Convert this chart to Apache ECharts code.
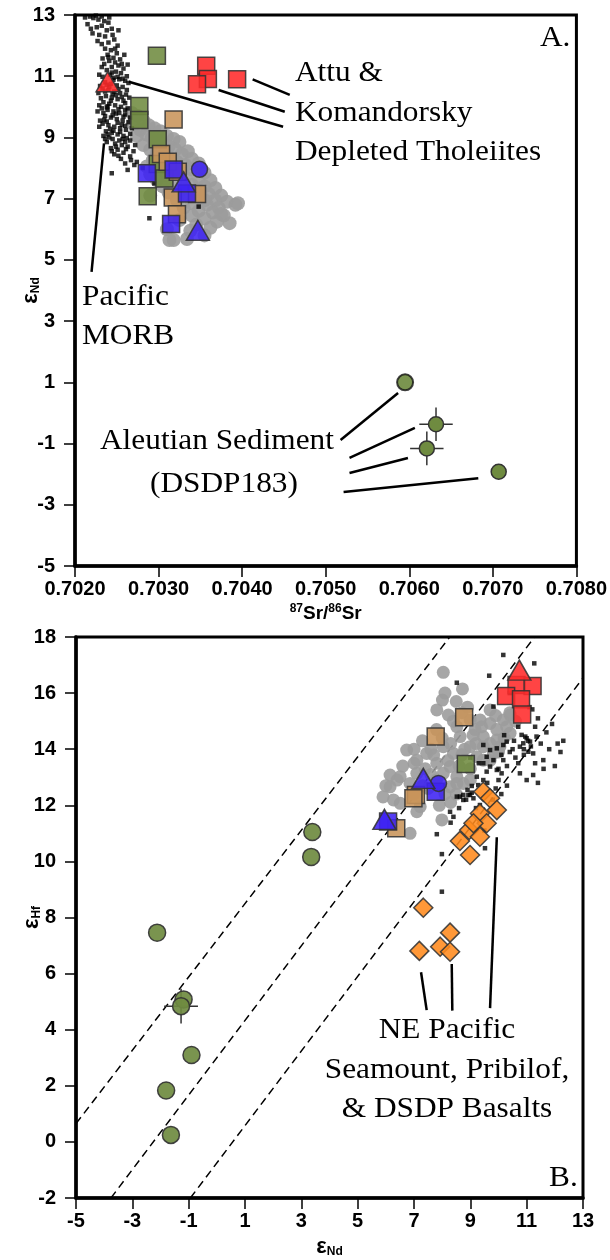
<!DOCTYPE html>
<html>
<head>
<meta charset="utf-8">
<script src="https://cdn.jsdelivr.net/npm/echarts@6.0.0/dist/echarts.min.js"></script>
<style>
html,body{margin:0;padding:0;background:#fff}
#chart{width:610px;height:1260px}
</style>
</head>
<body>
<div id="chart"></div>
<script>
// ---------- Panel A: 87Sr/86Sr vs eNd ----------
const xTicksA = [0.7020, 0.7030, 0.7040, 0.7050, 0.7060, 0.7070, 0.7080];
const yTicksA = [-5, -3, -1, 1, 3, 5, 7, 9, 11, 13];

// Pacific MORB (small black squares)
const morbA = [
  [0.70218,12.95],[0.70222,12.9],[0.70228,12.85],[0.70235,12.8],[0.70241,12.92],[0.70215,12.7],[0.70226,12.6],[0.70232,12.65],
  [0.70238,12.5],[0.70244,12.55],[0.70221,12.4],[0.70229,12.35],[0.70236,12.3],[0.70247,12.2],[0.7024,12.1],[0.70232,12.05],[0.70251,12.0],
  [0.70236,11.9],[0.70243,11.85],[0.7025,11.75],[0.70239,11.7],[0.70246,11.6],[0.70254,11.55],[0.70241,11.5],[0.70248,11.45],
  [0.70235,11.4],[0.70252,11.35],[0.70244,11.3],[0.70258,11.25],[0.70238,11.2],[0.70249,11.15],[0.70255,11.1],[0.70242,11.05],
  [0.70262,11.0],[0.70246,10.95],[0.70253,10.9],[0.7026,10.85],
  [0.70236,10.8],[0.70243,10.75],[0.7025,10.7],[0.70257,10.65],[0.70233,10.6],[0.7024,10.55],[0.70247,10.5],[0.70254,10.45],
  [0.70261,10.4],[0.70237,10.35],[0.70244,10.3],[0.70251,10.25],[0.70258,10.2],[0.70234,10.15],[0.70241,10.1],[0.70248,10.05],
  [0.70255,10.0],[0.70238,10.72],[0.70252,10.58],[0.70245,10.42],[0.70231,10.28],[0.7026,10.12],[0.70246,10.88],[0.70239,10.02],
  [0.70232,9.95],[0.70239,9.9],[0.70246,9.85],[0.70253,9.8],[0.7026,9.75],[0.70236,9.7],[0.70243,9.65],[0.7025,9.6],[0.70257,9.55],
  [0.70264,9.5],[0.70233,9.45],[0.7024,9.4],[0.70247,9.35],[0.70254,9.3],[0.70261,9.25],[0.70237,9.2],[0.70244,9.15],[0.70251,9.1],
  [0.70258,9.05],[0.70241,9.0],[0.70249,9.78],[0.70235,9.58],[0.70256,9.42],[0.70242,9.28],[0.70266,9.12],[0.70229,9.35],
  [0.70245,8.95],[0.70253,8.9],[0.7026,8.85],[0.70248,8.8],[0.70256,8.75],[0.70263,8.7],[0.70243,8.65],[0.70251,8.6],[0.7027,8.55],
  [0.70258,8.5],[0.70247,8.45],[0.70266,8.38],[0.70255,8.3],[0.70274,8.2],
  [0.70244,7.83],[0.70289,6.36],[0.70263,7.94],[0.70271,8.1],[0.70267,8.26],[0.70348,6.74],[0.70281,8.0],[0.70295,7.5],
  [0.70229,11.05],[0.70233,10.98],[0.70257,10.92],[0.70264,10.78],[0.7023,10.68],[0.70262,10.55],[0.70228,10.45],[0.70265,10.3],
  [0.70229,10.05],[0.70263,9.95],[0.70227,9.85],[0.70266,9.65],[0.7023,9.55],[0.7026,9.38],[0.70234,9.05],[0.70262,8.98],
  [0.70238,8.85],[0.7024,11.62],[0.70256,11.4],[0.70232,11.3],[0.70244,11.12],[0.70251,10.98],[0.70236,10.5],[0.70249,10.38],
  [0.70256,10.32],[0.70243,10.2],[0.70238,9.98],[0.70252,9.92],[0.70245,9.72],[0.70258,9.68],[0.70238,9.52],[0.70251,9.48],
  [0.70246,9.22],[0.70254,9.18],[0.70239,9.1],[0.70257,8.95],[0.70249,8.7],[0.70261,8.62],[0.70252,8.4],[0.7026,8.15],
  [0.70248,11.9],[0.70227,12.15],[0.70245,12.35],[0.70252,12.5],[0.70233,11.58],[0.70259,11.7],[0.70263,11.38],[0.70241,10.66],
  [0.70234,9.8],[0.7026,9.9],[0.70268,9.3],[0.70266,8.9],[0.70272,8.75],[0.70244,8.55],[0.70236,8.95],[0.7024,12.75],
  [0.70212,12.92],[0.70225,12.98],[0.70232,12.95],[0.70219,12.55]
];

// Aleutian arc lavas (grey circles)
const arcA = [
  [0.70268,9.8],[0.70275,9.7],[0.70282,9.55],[0.7027,9.45],[0.70288,9.4],[0.70295,9.3],[0.70278,9.25],[0.70302,9.2],[0.70285,9.1],
  [0.7031,9.05],[0.70292,9.0],[0.70318,8.95],[0.70274,9.05],
  [0.70298,8.9],[0.70305,8.8],[0.70325,8.85],[0.70282,8.75],[0.70312,8.7],[0.7029,8.6],[0.7032,8.6],[0.70335,8.55],[0.70298,8.5],
  [0.70305,8.4],[0.70328,8.45],[0.70315,8.3],[0.7034,8.3],[0.70293,8.25],[0.70322,8.2],[0.70308,8.1],[0.70332,8.1],[0.70348,8.15],
  [0.70286,8.05],[0.70315,8.0],
  [0.703,7.95],[0.70325,7.9],[0.7034,7.95],[0.70355,7.85],[0.7029,7.8],[0.7031,7.75],[0.70332,7.7],[0.70348,7.65],[0.70362,7.6],
  [0.70298,7.6],[0.7032,7.55],[0.7034,7.45],[0.70355,7.4],[0.70368,7.35],[0.70305,7.4],[0.70328,7.3],[0.70345,7.25],[0.7036,7.15],
  [0.70375,7.1],[0.70312,7.2],[0.70335,7.1],[0.70352,7.0],[0.70368,6.95],[0.70382,6.9],[0.7029,7.1],
  [0.70322,6.95],[0.7034,6.85],[0.70358,6.8],[0.70372,6.7],[0.7033,6.7],[0.70348,6.6],[0.70365,6.55],[0.70378,6.45],[0.70392,6.8],
  [0.7034,6.45],[0.70355,6.35],[0.7037,6.25],[0.70325,6.3],[0.70345,6.15],[0.70362,6.05],[0.70338,5.95],[0.70355,5.8],[0.70318,5.65],
  [0.7031,6.0],[0.70385,6.2],[0.70375,6.5],[0.70395,6.85],[0.70313,5.65],[0.70334,5.68],[0.70355,6.95]
];

const greenSqA = [[0.70298,11.67],[0.70277,10.03],[0.70277,9.57],[0.70299,8.94],[0.70299,8.13],[0.70307,7.66],[0.70287,7.08]];
const tanSqA   = [[0.70318,9.59],[0.70303,8.46],[0.70311,8.21],[0.70323,7.88],[0.70346,7.15],[0.70317,7.04],[0.70322,6.49]];
const blueSqA  = [[0.70318,7.95],[0.70286,7.83],[0.70334,7.17],[0.70315,6.17]];
const blueCircA = [[0.70349,7.96]];
const blueTriA = [[0.70330,7.55],[0.70347,5.97]];
const redSqA   = [[0.70357,11.34],[0.70359,10.91],[0.70346,10.74],[0.70394,10.9]];
const redTriA  = [[0.70239,10.82]];

// Aleutian sediment, DSDP 183
const sedDarkA = [[0.70595,1.0]];
const sedA     = [[0.70632,-0.37],[0.70621,-1.16],[0.70707,-1.92]];
// [Sr, Nd, errSr, errNd]
const sedErrA  = [[0.70632,-0.37,0.0002,0.55],[0.70621,-1.16,0.0002,0.55]];

// label leader lines [x1, y1, x2, y2]
const leadersA = [
  [0.702347,8.81,0.702198,4.61],
  [0.704126,10.90,0.704570,10.39],
  [0.703719,10.55,0.704510,9.84],
  [0.702644,10.82,0.704490,9.35],
  [0.705178,-0.885,0.705866,0.651],
  [0.705285,-1.47,0.706067,-0.49],
  [0.705285,-1.96,0.705984,-1.47],
  [0.705214,-2.58,0.706826,-2.13]
];

// ---------- Panel B: eNd vs eHf ----------
const xTicksB = [-5, -3, -1, 1, 3, 5, 7, 9, 11, 13];
const yTicksB = [-2, 0, 2, 4, 6, 8, 10, 12, 14, 16, 18];

const morbB = [
  [10.17,17.36],[11.27,17.06],[9.67,16.62],[8.52,16.37],[11.20,15.42],[9.82,15.52],[9.46,14.15],[9.70,13.97],[9.94,14.03],
  [10.17,14.15],[10.29,14.27],[10.82,14.51],[11.0,14.39],[11.12,14.27],[10.88,14.21],[10.76,14.09],[11.06,13.91],[11.23,13.85],
  [11.59,13.61],[9.58,13.73],[9.82,13.61],[9.46,13.50],[10.17,13.61],[9.70,13.38],[9.94,13.26],[10.11,13.14],[10.76,13.14],
  [11.23,13.08],[9.23,13.02],[9.46,12.90],[9.58,13.20],[8.52,12.31],[8.75,12.37],[8.99,12.37],[8.75,12.19],[8.93,12.37],
  [9.11,12.25],[8.63,12.31],[8.28,11.77],[8.40,11.59],[8.30,11.38],[7.81,10.97],[7.99,10.26],[7.99,8.92],[9.52,10.47],
  [9.28,12.72],[9.05,12.69],[9.34,12.01],[11.6,13.3],[11.4,12.8],[11.7,14.6],[11.3,14.8],[11.8,14.0],[12.0,13.4],[10.95,14.45],
  [11.05,14.3],[10.9,14.0],[11.15,14.1],[10.6,13.7],[10.4,13.9],[10.3,13.4],[10.0,12.9],[9.9,12.6],[11.4,15.1],[12.1,14.2],
  [8.9,12.55],[9.05,12.45],[8.85,12.2],
  [10.2,14.5],[10.5,14.0],[10.7,13.5],[10.9,13.8],[11.3,13.5],[11.5,14.2],[10.0,13.3],[9.6,12.8],[10.3,12.7],[9.8,12.2],
  [10.1,12.4],[11.0,12.9],[12.2,13.9],[12.3,14.3],[11.9,14.9],[11.1,15.5],[10.4,16.0],[9.3,13.5],[9.0,13.7],[9.2,11.9],
  [9.5,11.1],[8.6,11.9],[10.7,14.8],[10.1,13.8],[10.55,14.3],[11.35,14.45]
];

const arcB = [
  [8.04,16.74],[8.72,16.15],[8.01,15.75],[7.81,15.40],[8.22,15.22],[9.35,15.04],[9.70,14.92],[10.17,15.04],[10.41,15.22],
  [9.94,14.70],[9.17,14.70],[9.46,14.45],[8.64,14.45],[8.04,14.09],[8.99,14.09],[9.46,14.09],[6.74,13.97],[7.45,13.85],
  [8.40,13.85],[9.23,13.73],[7.10,13.61],[7.81,13.50],[8.28,13.38],[6.15,13.08],[6.51,13.02],[7.10,13.14],[8.04,13.14],
  [8.52,13.02],[6.15,12.66],[6.86,12.78],[8.28,12.66],[8.75,12.78],[9.46,13.61],[9.82,13.85],[10.05,14.09],[9.70,15.40],
  [10.29,14.80],[8.99,15.04],[8.52,14.80],[9.94,14.33],[10.41,14.57],[6.51,12.07],[7.22,11.95],[7.10,11.77],[7.99,11.48],
  [6.86,11.00],[8.52,12.78],[6.27,12.19],[7.5,12.6],[7.0,12.4],[7.6,13.1],[8.1,12.4],[8.6,13.4],[9.0,13.3],[8.8,14.0],
  [7.3,14.3],[7.8,14.7],[8.3,14.2],[8.9,15.5],[9.2,14.2],[10.6,15.0],[6.4,12.9],[5.9,12.3],[7.9,12.0],[8.3,12.1],[9.0,12.9],
  [7.0,13.5],[7.4,13.3],[7.7,13.8],[8.2,13.6],[8.7,13.8],[9.1,14.5],[8.4,15.0],[8.7,15.3],[9.4,14.8],[9.9,15.2],[10.2,14.4],
  [7.3,12.7],[7.8,12.9],[8.5,12.4],[9.7,13.6],[10.0,13.9],[6.6,13.4],[6.0,12.7],[8.1,16.0],[8.5,15.7],[7.6,14.0],[7.0,14.0],
  [8.0,14.4],[9.7,14.2],[10.4,15.3]
];

const greenSqB = [[8.84,13.47]];
const tanSqB   = [[8.78,15.14],[7.77,14.45],[7.07,12.37],[6.98,12.25],[6.37,11.18]];
const blueSqB  = [[7.77,12.48],[6.08,11.42]];
const blueCircB = [[7.87,12.78]];
const blueTriB = [[7.33,12.96],[5.95,11.5]];
const redSqB   = [[10.64,16.29],[11.21,16.25],[10.27,15.90],[10.80,15.78],[10.84,15.24]];
const redTriB  = [[10.74,16.82]];

// NE Pacific seamount, Pribilof and DSDP basalts
const seamountB = [
  [9.46,12.48],[9.70,12.25],[9.94,11.83],[9.34,11.71],[9.58,11.36],[8.96,11.12],[9.11,11.36],[9.34,10.88],
  [8.63,10.73],[8.99,10.23],[7.33,8.35],[8.28,7.46],[7.19,6.81],[7.93,6.96],[8.28,6.78]
];

const sedB    = [[-2.12,7.46],[-1.18,5.08],[-1.27,4.84],[-0.90,3.10],[-1.80,1.83],[-1.63,0.25],[3.39,11.05],[3.35,10.16]];
const sedErrB = [[-1.27,4.84,0.6,0.62]];

// dashed reference lines (end points)
const refLineUpper = [[-5,0.65],[8.27,18]];
const refLineMid   = [[-3.76,-2],[11.28,18]];
const refLineLower = [[-0.94,-2],[13,16.54]];

const leadersB = [
  [7.25,6.05,7.45,4.70],
  [8.34,6.34,8.36,4.68],
  [9.94,10.86,9.70,4.77]
];

// ---------- styling ----------
const SANS = '"Liberation Sans", Arial, Helvetica, sans-serif';
const SERIF = '"Liberation Serif", "Times New Roman", serif';
const C = {
  green: '#6f8b40', tan: '#c8945a', blue: '#3d22f2', red: '#ff2a2a',
  orange: '#ff8a1c', grey: '#9c9c9c', edge: '#333333'
};

function axisBase(extra) {
  return Object.assign({
    type: 'value',
    axisLine: { show: true, onZero: false, lineStyle: { color: '#000', width: 3.5 } },
    axisTick: { show: true, inside: false, length: 11, lineStyle: { color: '#000', width: 1.5 } },
    splitLine: { show: false },
    nameMoveOverlap: false
  }, extra);
}
const tickFont = { color: '#000', fontFamily: SANS, fontWeight: 'bold', fontSize: 20 };

const epsRich = {
  e: { fontFamily: SANS, fontWeight: 'bold', fontSize: 22, lineHeight: 22, color: '#000' },
  s: { fontFamily: SANS, fontWeight: 'bold', fontSize: 12, lineHeight: 6, verticalAlign: 'bottom', color: '#000' }
};
const srRich = {
  b: { fontFamily: SANS, fontWeight: 'bold', fontSize: 19, lineHeight: 22, color: '#000' },
  p: { fontFamily: SANS, fontWeight: 'bold', fontSize: 12, lineHeight: 10, verticalAlign: 'top', color: '#000' }
};

function pts(name, idx, data, symbol, size, style, z) {
  return {
    name: name, type: 'scatter', xAxisIndex: idx, yAxisIndex: idx,
    data: data, symbol: symbol, symbolSize: size, silent: true, z: z || 2,
    itemStyle: style
  };
}
const marker = (fill, op) => ({ color: fill, borderColor: C.edge, borderWidth: 1.5, opacity: op == null ? 0.88 : op });

function leaderSeries(idx, data) {
  return {
    type: 'custom', xAxisIndex: idx, yAxisIndex: idx, data: data, silent: true, z: 5,
    encode: { x: [0, 2], y: [1, 3] },
    renderItem: function (params, api) {
      const a = api.coord([api.value(0), api.value(1)]);
      const b = api.coord([api.value(2), api.value(3)]);
      return { type: 'line', shape: { x1: a[0], y1: a[1], x2: b[0], y2: b[1] },
               style: { stroke: '#000', lineWidth: 2.5 } };
    }
  };
}
function errSeries(idx, data) {
  return {
    type: 'custom', xAxisIndex: idx, yAxisIndex: idx, data: data, silent: true, z: 3,
    encode: { x: 0, y: 1 },
    renderItem: function (params, api) {
      const x = api.value(0), y = api.value(1), ex = api.value(2), ey = api.value(3);
      const l = api.coord([x - ex, y]), r = api.coord([x + ex, y]);
      const t = api.coord([x, y + ey]), b = api.coord([x, y - ey]);
      const st = { stroke: '#333', lineWidth: 1.5 };
      return { type: 'group', children: [
        { type: 'line', shape: { x1: l[0], y1: l[1], x2: r[0], y2: r[1] }, style: st },
        { type: 'line', shape: { x1: t[0], y1: t[1], x2: b[0], y2: b[1] }, style: st }
      ] };
    }
  };
}
function dashed(data) {
  return {
    type: 'line', xAxisIndex: 1, yAxisIndex: 1, data: data, symbol: 'none', silent: true, z: 1,
    clip: true, lineStyle: { color: '#000', width: 1.5, type: [8, 5] }
  };
}

function label(text, x, y, align, size) {
  return {
    type: 'text', x: x, y: y, scaleX: 1.08, z: 100,
    style: { text: text, font: (size || 29) + 'px ' + SERIF, fill: '#000',
             align: align || 'left', verticalAlign: 'middle' }
  };
}

const chart = echarts.init(document.getElementById('chart'), null, { renderer: 'canvas' });
chart.setOption({
  animation: false,
  backgroundColor: '#fff',
  grid: [
    { left: 75, top: 15, width: 506, height: 551, show: true, borderColor: '#000', borderWidth: 3, containLabel: false },
    { left: 76, top: 637, width: 507, height: 561, show: true, borderColor: '#000', borderWidth: 3, containLabel: false }
  ],
  xAxis: [
    axisBase({
      gridIndex: 0, min: xTicksA[0], max: xTicksA[xTicksA.length - 1], interval: 0.001,
      axisLabel: Object.assign({ margin: 13, formatter: v => v.toFixed(4) }, tickFont),
      name: '{p|87}{b|Sr/}{p|86}{b|Sr}', nameLocation: 'middle', nameGap: 37,
      nameTextStyle: { rich: srRich }
    }),
    axisBase({
      gridIndex: 1, min: xTicksB[0], max: xTicksB[xTicksB.length - 1], interval: 2,
      axisLabel: Object.assign({ margin: 13 }, tickFont),
      name: '{e|ε}{s|Nd}', nameLocation: 'middle', nameGap: 38,
      nameTextStyle: { rich: epsRich }
    })
  ],
  yAxis: [
    axisBase({
      gridIndex: 0, min: yTicksA[0], max: yTicksA[yTicksA.length - 1], interval: 2,
      axisLabel: Object.assign({ margin: 20 }, tickFont),
      name: '{e|ε}{s|Nd}', nameLocation: 'middle', nameRotate: 90, nameGap: 33,
      nameTextStyle: { rich: epsRich }
    }),
    axisBase({
      gridIndex: 1, min: yTicksB[0], max: yTicksB[yTicksB.length - 1], interval: 2,
      axisLabel: Object.assign({ margin: 20 }, tickFont),
      name: '{e|ε}{s|Hf}', nameLocation: 'middle', nameRotate: 90, nameGap: 33,
      nameTextStyle: { rich: epsRich }
    })
  ],
  series: [
    // panel A
    pts('arc', 0, arcA, 'circle', 14, { color: C.grey, opacity: 0.9 }, 2),
    pts('morb', 0, morbA, 'rect', 4.5, { color: '#000' }, 2),
    leaderSeries(0, leadersA),
    pts('greenSq', 0, greenSqA, 'rect', 17, marker(C.green), 3),
    pts('tanSq', 0, tanSqA, 'rect', 17, marker(C.tan), 3),
    pts('blueSq', 0, blueSqA, 'rect', 17, marker(C.blue), 3),
    pts('blueCirc', 0, blueCircA, 'circle', 16, marker(C.blue), 3),
    pts('blueTri', 0, blueTriA, 'triangle', [23, 20], marker(C.blue), 3),
    pts('redSq', 0, redSqA, 'rect', 17, marker(C.red), 3),
    pts('redTri', 0, redTriA, 'triangle', [23, 20], marker(C.red), 3),
    errSeries(0, sedErrA),
    pts('sedDark', 0, sedDarkA, 'circle', 16, { color: '#5a7a24', borderColor: '#111', borderWidth: 2 }, 4),
    pts('sed', 0, sedA, 'circle', 15, marker(C.green, 1), 4),
    // panel B
    dashed(refLineUpper), dashed(refLineMid), dashed(refLineLower),
    pts('arcB', 1, arcB, 'circle', 13, { color: C.grey, opacity: 0.9 }, 2),
    pts('morbB', 1, morbB, 'rect', 4.5, { color: '#000' }, 2),
    leaderSeries(1, leadersB),
    pts('greenSqB', 1, greenSqB, 'rect', 17, marker(C.green), 3),
    pts('tanSqB', 1, tanSqB, 'rect', 17, marker(C.tan), 3),
    pts('blueSqB', 1, blueSqB, 'rect', 17, marker(C.blue), 3),
    pts('blueCircB', 1, blueCircB, 'circle', 16, marker(C.blue), 3),
    pts('blueTriB', 1, blueTriB, 'triangle', [23, 20], marker(C.blue), 3),
    pts('redSqB', 1, redSqB, 'rect', 17, marker(C.red), 3),
    pts('redTriB', 1, redTriB, 'triangle', [23, 20], marker(C.red), 3),
    pts('seamountB', 1, seamountB, 'diamond', 19, marker(C.orange), 3),
    errSeries(1, sedErrB),
    pts('sedB', 1, sedB, 'circle', 17, marker(C.green, 0.92), 4)
  ],
  graphic: [
    label('A.', 540, 38),
    label('Attu &', 295, 73),
    label('Komandorsky', 295, 113),
    label('Depleted Tholeiites', 295, 152),
    label('Pacific', 82, 297),
    label('MORB', 82, 336),
    label('Aleutian Sediment', 100, 441),
    label('(DSDP183)', 150, 484),
    label('B.', 549, 1178),
    label('NE Pacific', 447, 1030, 'center'),
    label('Seamount, Pribilof,', 447, 1070, 'center'),
    label('& DSDP Basalts', 447, 1109, 'center')
  ]
});
</script>
</body>
</html>
